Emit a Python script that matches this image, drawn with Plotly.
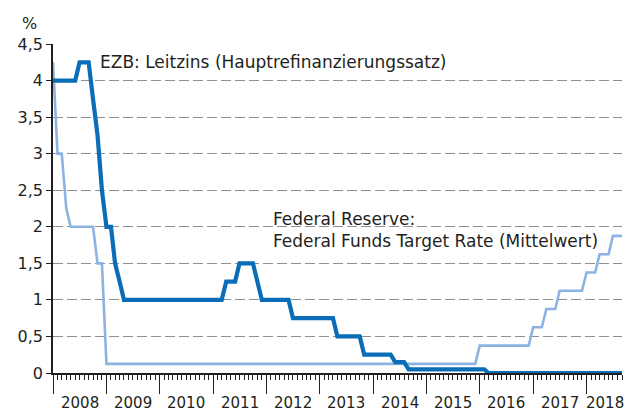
import plotly.graph_objects as go

# ECB main refinancing rate (corner points of the monthly series)
ecb_dates = ["2008-01-01", "2008-06-01", "2008-07-01", "2008-09-01", "2008-10-01",
             "2008-11-01", "2008-12-01", "2009-01-01", "2009-02-01", "2009-03-01",
             "2009-04-01", "2009-05-01", "2011-03-01", "2011-04-01", "2011-06-01",
             "2011-07-01", "2011-10-01", "2011-11-01", "2011-12-01", "2012-06-01",
             "2012-07-01", "2013-04-01", "2013-05-01", "2013-10-01", "2013-11-01",
             "2014-05-01", "2014-06-01", "2014-08-01", "2014-09-01", "2016-02-01",
             "2016-03-01", "2018-09-01"]
ecb_values = [4.0, 4.0, 4.25, 4.25, 3.75,
              3.25, 2.5, 2.0, 2.0, 1.5,
              1.25, 1.0, 1.0, 1.25, 1.25,
              1.5, 1.5, 1.25, 1.0, 1.0,
              0.75, 0.75, 0.5, 0.5, 0.25,
              0.25, 0.15, 0.15, 0.05, 0.05,
              0.0, 0.0]

# Federal Reserve: Federal Funds Target Rate (midpoint)
fed_dates = ["2008-01-01", "2008-02-01", "2008-03-01", "2008-04-01", "2008-05-01",
             "2008-10-01", "2008-11-01", "2008-12-01", "2009-01-01", "2015-12-01",
             "2016-01-01", "2016-12-01", "2017-01-01", "2017-03-01", "2017-04-01",
             "2017-06-01", "2017-07-01", "2017-12-01", "2018-01-01", "2018-03-01",
             "2018-04-01", "2018-06-01", "2018-07-01", "2018-09-01"]
fed_values = [4.25, 3.0, 3.0, 2.25, 2.0,
              2.0, 1.5, 1.5, 0.125, 0.125,
              0.375, 0.375, 0.625, 0.625, 0.875,
              0.875, 1.125, 1.125, 1.375, 1.375,
              1.625, 1.625, 1.875, 1.875]

y_tickvals = [0, 0.5, 1, 1.5, 2, 2.5, 3, 3.5, 4, 4.5]
y_ticktext = ["0", "0,5", "1", "1,5", "2", "2,5", "3", "3,5", "4", "4,5"]

year_labels = ["2008", "2009", "2010", "2011", "2012", "2013", "2014", "2015",
               "2016", "2017", "2018"]
year_label_pos = ["2008-07-02", "2009-07-02", "2010-07-02", "2011-07-02", "2012-07-02",
                  "2013-07-02", "2014-07-02", "2015-07-02", "2016-07-02", "2017-07-02",
                  "2018-05-10"]

x_range = ["2008-01-01", "2018-09-01"]

FONT = "DejaVu Sans"
TXT = "#231f20"
FS_TICK = 16
FS_YEAR = 15
FS_ANN = 17

fig = go.Figure()
fig.add_trace(go.Scatter(x=fed_dates, y=fed_values, mode="lines",
                         line=dict(color="#8cb4e2", width=2.6), showlegend=False))
fig.add_trace(go.Scatter(x=ecb_dates, y=ecb_values, mode="lines",
                         line=dict(color="#0a6db8", width=4.2), showlegend=False))

annotations = [
    dict(text="%", xref="paper", yref="paper", x=0, y=1.0, xshift=-24, yshift=21,
         xanchor="center", yanchor="middle", showarrow=False,
         font=dict(family=FONT, size=FS_TICK, color=TXT)),
    dict(text="EZB: Leitzins (Hauptrefinanzierungssatz)", xref="x", yref="y",
         x="2008-11-02", y=4.25, xanchor="left", yanchor="middle", showarrow=False,
         font=dict(family=FONT, size=FS_ANN, color=TXT)),
    dict(text="Federal Reserve:<br>Federal Funds Target Rate (Mittelwert)",
         xref="x", yref="y", x="2012-02-01", y=1.95, xanchor="left", yanchor="middle",
         align="left", showarrow=False,
         font=dict(family=FONT, size=FS_ANN, color=TXT)),
]
for lab, pos in zip(year_labels, year_label_pos):
    annotations.append(dict(text=lab, xref="x", yref="paper", x=pos, y=0, yshift=-30,
                            xanchor="center", yanchor="middle", showarrow=False,
                            font=dict(family=FONT, size=FS_YEAR, color=TXT)))

fig.update_layout(
    width=626, height=414,
    margin=dict(l=53, r=4, t=44, b=41),
    paper_bgcolor="white", plot_bgcolor="white",
    font=dict(family=FONT, size=FS_TICK, color=TXT),
    xaxis=dict(
        type="date", range=x_range,
        showgrid=False, zeroline=False,
        showline=True, linecolor="#231f20", linewidth=1.5,
        tickmode="linear", tick0="2008-01-01", dtick="M12",
        ticks="outside", ticklen=19, tickwidth=1.3, tickcolor="#231f20",
        showticklabels=False,
        minor=dict(tickmode="linear", tick0="2008-01-01", dtick="M1",
                   ticks="outside", ticklen=5, tickwidth=1, tickcolor="#231f20",
                   showgrid=False),
    ),
    yaxis=dict(
        range=[0, 4.5],
        tickmode="array", tickvals=y_tickvals, ticktext=y_ticktext,
        showgrid=True, gridcolor="#8f8f8f", gridwidth=1.3, griddash="10px,4px",
        zeroline=False,
        showline=True, linecolor="#231f20", linewidth=1.5,
        ticks="outside", ticklen=5, tickwidth=1.2, tickcolor="#231f20",
        tickfont=dict(family=FONT, size=FS_TICK, color=TXT),
    ),
    annotations=annotations,
)

fig.write_html(
    "out.html",
    config={"displayModeBar": False},
    post_script="document.body.style.margin='0';document.body.style.overflow='hidden';",
)
